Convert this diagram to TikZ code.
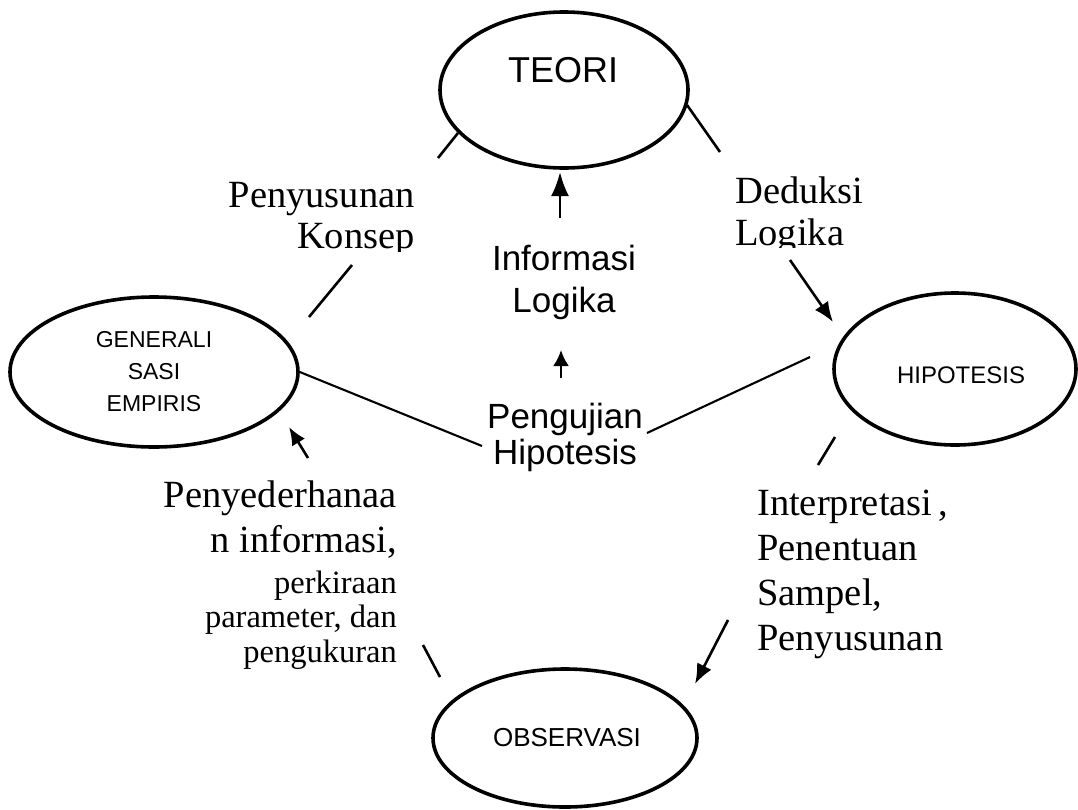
\documentclass[tikz,border=0pt]{standalone}
\usepackage{fontspec}
\setmainfont{Liberation Serif}
\setsansfont{Liberation Sans}
\usetikzlibrary{arrows.meta,shapes.geometric}
\tikzset{
  ell/.style={draw, ellipse, line width=3.6pt, inner sep=0pt},
  conn/.style={line width=2.6pt},
  thinconn/.style={line width=2.1pt},
  arr/.style={line width=2.6pt, -{Latex[length=20pt,width=16pt]}},
  bigtxt/.style={font=\fontsize{38.5}{45}\selectfont, inner sep=0pt},
  smalltxt/.style={font=\fontsize{32.5}{35}\selectfont, inner sep=0pt},
  sanstxt/.style={font=\sffamily\fontsize{35}{40}\selectfont, inner sep=0pt},
}
\begin{document}
\begin{tikzpicture}[x=1pt,y=-1pt]
\useasboundingbox[fill=white] (0,0) rectangle (1078,809);

% ellipses
\node[ell, minimum width=248pt, minimum height=156pt] (teori) at (564,90) {};
\node[font=\sffamily\fontsize{36}{40}\selectfont, inner sep=0pt] (teoriT) at (563,70) {TEORI};
\node[ell, minimum width=288pt, minimum height=150pt, align=center,
      font=\sffamily\fontsize{23}{32}\selectfont] (gen) at (154,372) {GENERALI\\SASI\\EMPIRIS};
\node[ell, minimum width=242pt, minimum height=152pt] (hip) at (955,369) {};
\node[font=\sffamily\fontsize{24}{28}\selectfont, inner sep=0pt] (hipT) at (961,375) {HIPOTESIS};
\node[ell, minimum width=264pt, minimum height=138pt] (obs) at (565,738) {};
\node[font=\sffamily\fontsize{26}{30}\selectfont, inner sep=0pt] (obsT) at (567,738) {OBSERVASI};

% labels
\node[bigtxt, anchor=base east] (pk1) at (415,207) {Penyusunan};
\begin{scope}
  \clip (0,0) rectangle (1078,251);
  \node[bigtxt, anchor=base east] (pk2) at (415,248) {Konsep};
\end{scope}
\node[bigtxt, anchor=base west] (dl1) at (735,203) {Deduksi};
\begin{scope}
  \clip (0,0) rectangle (1078,247);
  \node[bigtxt, anchor=base west] (dl2) at (735,245) {Logika};
\end{scope}
\node[sanstxt, anchor=base] (il1) at (564,270) {Informasi};
\node[sanstxt, anchor=base] (il2) at (564,312) {Logika};
\node[sanstxt, anchor=base] (ph1) at (565,428) {Pengujian};
\node[sanstxt, anchor=base] (ph2) at (565,464) {Hipotesis};

\node[bigtxt, anchor=base east] (sd1) at (397,507) {Penyederhanaa};
\node[bigtxt, anchor=base east] (sd2) at (397,552) {n informasi,};
\node[smalltxt, anchor=base east] (sd3) at (397,593) {perkiraan};
\node[smalltxt, anchor=base east] (sd4) at (397,627) {parameter, dan};
\node[smalltxt, anchor=base east] (sd5) at (397,662) {pengukuran};

\node[bigtxt, anchor=base west] (ip1) at (757,515) {Interpretasi\,,};
\node[bigtxt, anchor=base west] (ip2) at (757,560) {Penentuan};
\node[bigtxt, anchor=base west] (ip3) at (757,605) {Sampel,};
\node[bigtxt, anchor=base west] (ip4) at (757,650) {Penyusunan};

% connector coordinates
\coordinate (a1) at (309,317);
\coordinate (a2) at (352,265);
\coordinate (a3) at (438,158);
\coordinate (a4) at (458,133);
\coordinate (b1) at (687,105);
\coordinate (b2) at (720,152);
\coordinate (b3) at (790,260);
\coordinate (b4) at (833,322);
\coordinate (c1) at (835,437);
\coordinate (c2) at (818,465);
\coordinate (c3) at (728,620);
\coordinate (c4) at (695,684);
\coordinate (d1) at (423,645);
\coordinate (d2) at (440,677);
\coordinate (d3) at (308,458);
\coordinate (d4) at (289,427);
\coordinate (e1) at (482,446);
\coordinate (f1) at (647,433);
\coordinate (f2) at (810,357);
\coordinate (g1) at (560,218);
\coordinate (g2) at (560,172);
\coordinate (h1) at (561,378);
\coordinate (h2) at (561,350);

% connectors
\draw[conn] (a1) -- (a2);
\draw[conn] (a3) -- (a4);
\draw[conn] (b1) -- (b2);
\draw[arr] (b3) -- (b4);
\draw[conn] (c1) -- (c2);
\draw[arr] (c3) -- (c4);
\draw[conn] (d1) -- (d2);
\draw[line width=2.6pt, -{Latex[length=18pt,width=15pt]}] (d3) -- (d4);
\draw[thinconn] (gen.east) -- (e1);
\draw[thinconn] (f1) -- (f2);
\draw[line width=2.8pt, -{Latex[length=24pt,width=18pt]}] (g1) -- (g2);
\draw[line width=2.6pt, -{Latex[length=16pt,width=16pt]}] (h1) -- (h2);
\end{tikzpicture}
\end{document}
